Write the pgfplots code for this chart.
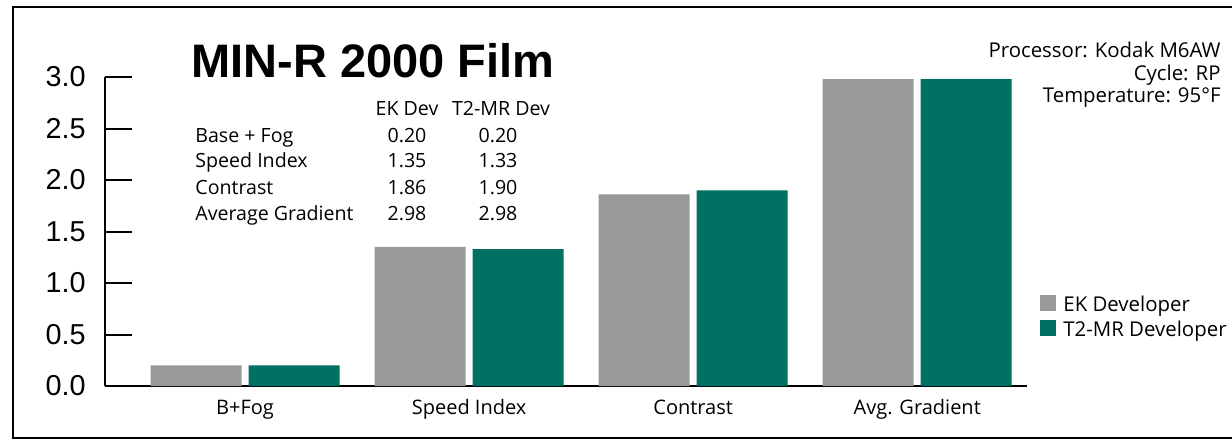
\documentclass[border=0pt]{standalone}
\usepackage{pgfplots}
\pgfplotsset{compat=1.18}
\usepackage{fontspec}
\setmainfont{Open Sans}
\newfontfamily\arial{Liberation Sans}
\definecolor{ekgray}{HTML}{999999}
\definecolor{tteal}{HTML}{007063}
\begin{document}
\begin{tikzpicture}
\begin{scope}[x=0.5pt,y=-0.5pt]
\useasboundingbox (0,0) rectangle (1232,441);
\draw[line width=1.2pt] (1250,7) -- (13,7) -- (13,438) -- (1250,438);
\end{scope}
\begin{axis}[
  at={(52.5pt,-193pt)}, anchor=south west,
  scale only axis, width=461pt, height=154.5pt,
  xmin=-0.625, xmax=3.49, ymin=0, ymax=3,
  axis x line*=bottom, axis y line*=left,
  axis line style={line width=1pt, black},
  ybar=3.5pt, bar width=45.5pt,
  xtick=data, xticklabels={B+Fog,Speed Index,Contrast,Avg. Gradient},
  x tick style={draw=none},
  xticklabel style={font=\fontsize{10}{12}\selectfont, anchor=base, inner sep=0pt, yshift=-14pt},
  ytick={0,0.5,1,1.5,2,2.5,3},
  y tick style={line width=1pt, black},
  major tick length=13.5pt, tick align=inside,
  yticklabel={\pgfmathprintnumber[fixed,fixed zerofill,precision=1,assume math mode=true]{\tick}},
  yticklabel style={font=\arial\fontsize{14.4}{16}\selectfont, anchor=east, inner sep=0pt, xshift=-9.5pt},
  clip=false,
]
\addplot[fill=ekgray, draw=none] coordinates {(0,0.20) (1,1.35) (2,1.86) (3,2.98)};
\addplot[fill=tteal, draw=none] coordinates {(0,0.20) (1,1.33) (2,1.90) (3,2.98)};
\end{axis}
\begin{scope}[x=0.5pt,y=-0.5pt]
\node[anchor=base west, inner sep=0pt, font=\arial\bfseries\fontsize{23.5}{26}\selectfont] at (191,77) {MIN-R 2000 Film};
\begin{scope}[every node/.style={inner sep=0pt, font=\fontsize{9.8}{11}\selectfont}]
\node[anchor=base] at (407,115) {EK Dev};
\node[anchor=base] at (501,115) {T2-MR Dev};
\node[anchor=base west] at (195,142) {Base + Fog};
\node[anchor=base west] at (195,167) {Speed Index};
\node[anchor=base west] at (195,194) {Contrast};
\node[anchor=base west] at (195,220) {Average Gradient};
\node[anchor=base] at (407,142) {0.20};
\node[anchor=base] at (498,142) {0.20};
\node[anchor=base] at (407,167) {1.35};
\node[anchor=base] at (498,167) {1.33};
\node[anchor=base] at (407,194) {1.86};
\node[anchor=base] at (498,194) {1.90};
\node[anchor=base] at (407,220) {2.98};
\node[anchor=base] at (498,220) {2.98};
\end{scope}
\begin{scope}[every node/.style={inner sep=0pt, font=\fontsize{10.2}{12}\selectfont}]
\node[anchor=base east] at (1221,57) {Processor: Kodak M6AW};
\node[anchor=base east] at (1221,80) {Cycle: RP};
\node[anchor=base east] at (1221,102) {Temperature: 95°F};
\node[anchor=base west] at (1063,311) {EK Developer};
\node[anchor=base west] at (1063,336) {T2-MR Developer};
\end{scope}
\fill[ekgray] (1040,295) rectangle (1056,311);
\fill[tteal] (1040,320) rectangle (1056,336);
\end{scope}
\end{tikzpicture}
\end{document}
